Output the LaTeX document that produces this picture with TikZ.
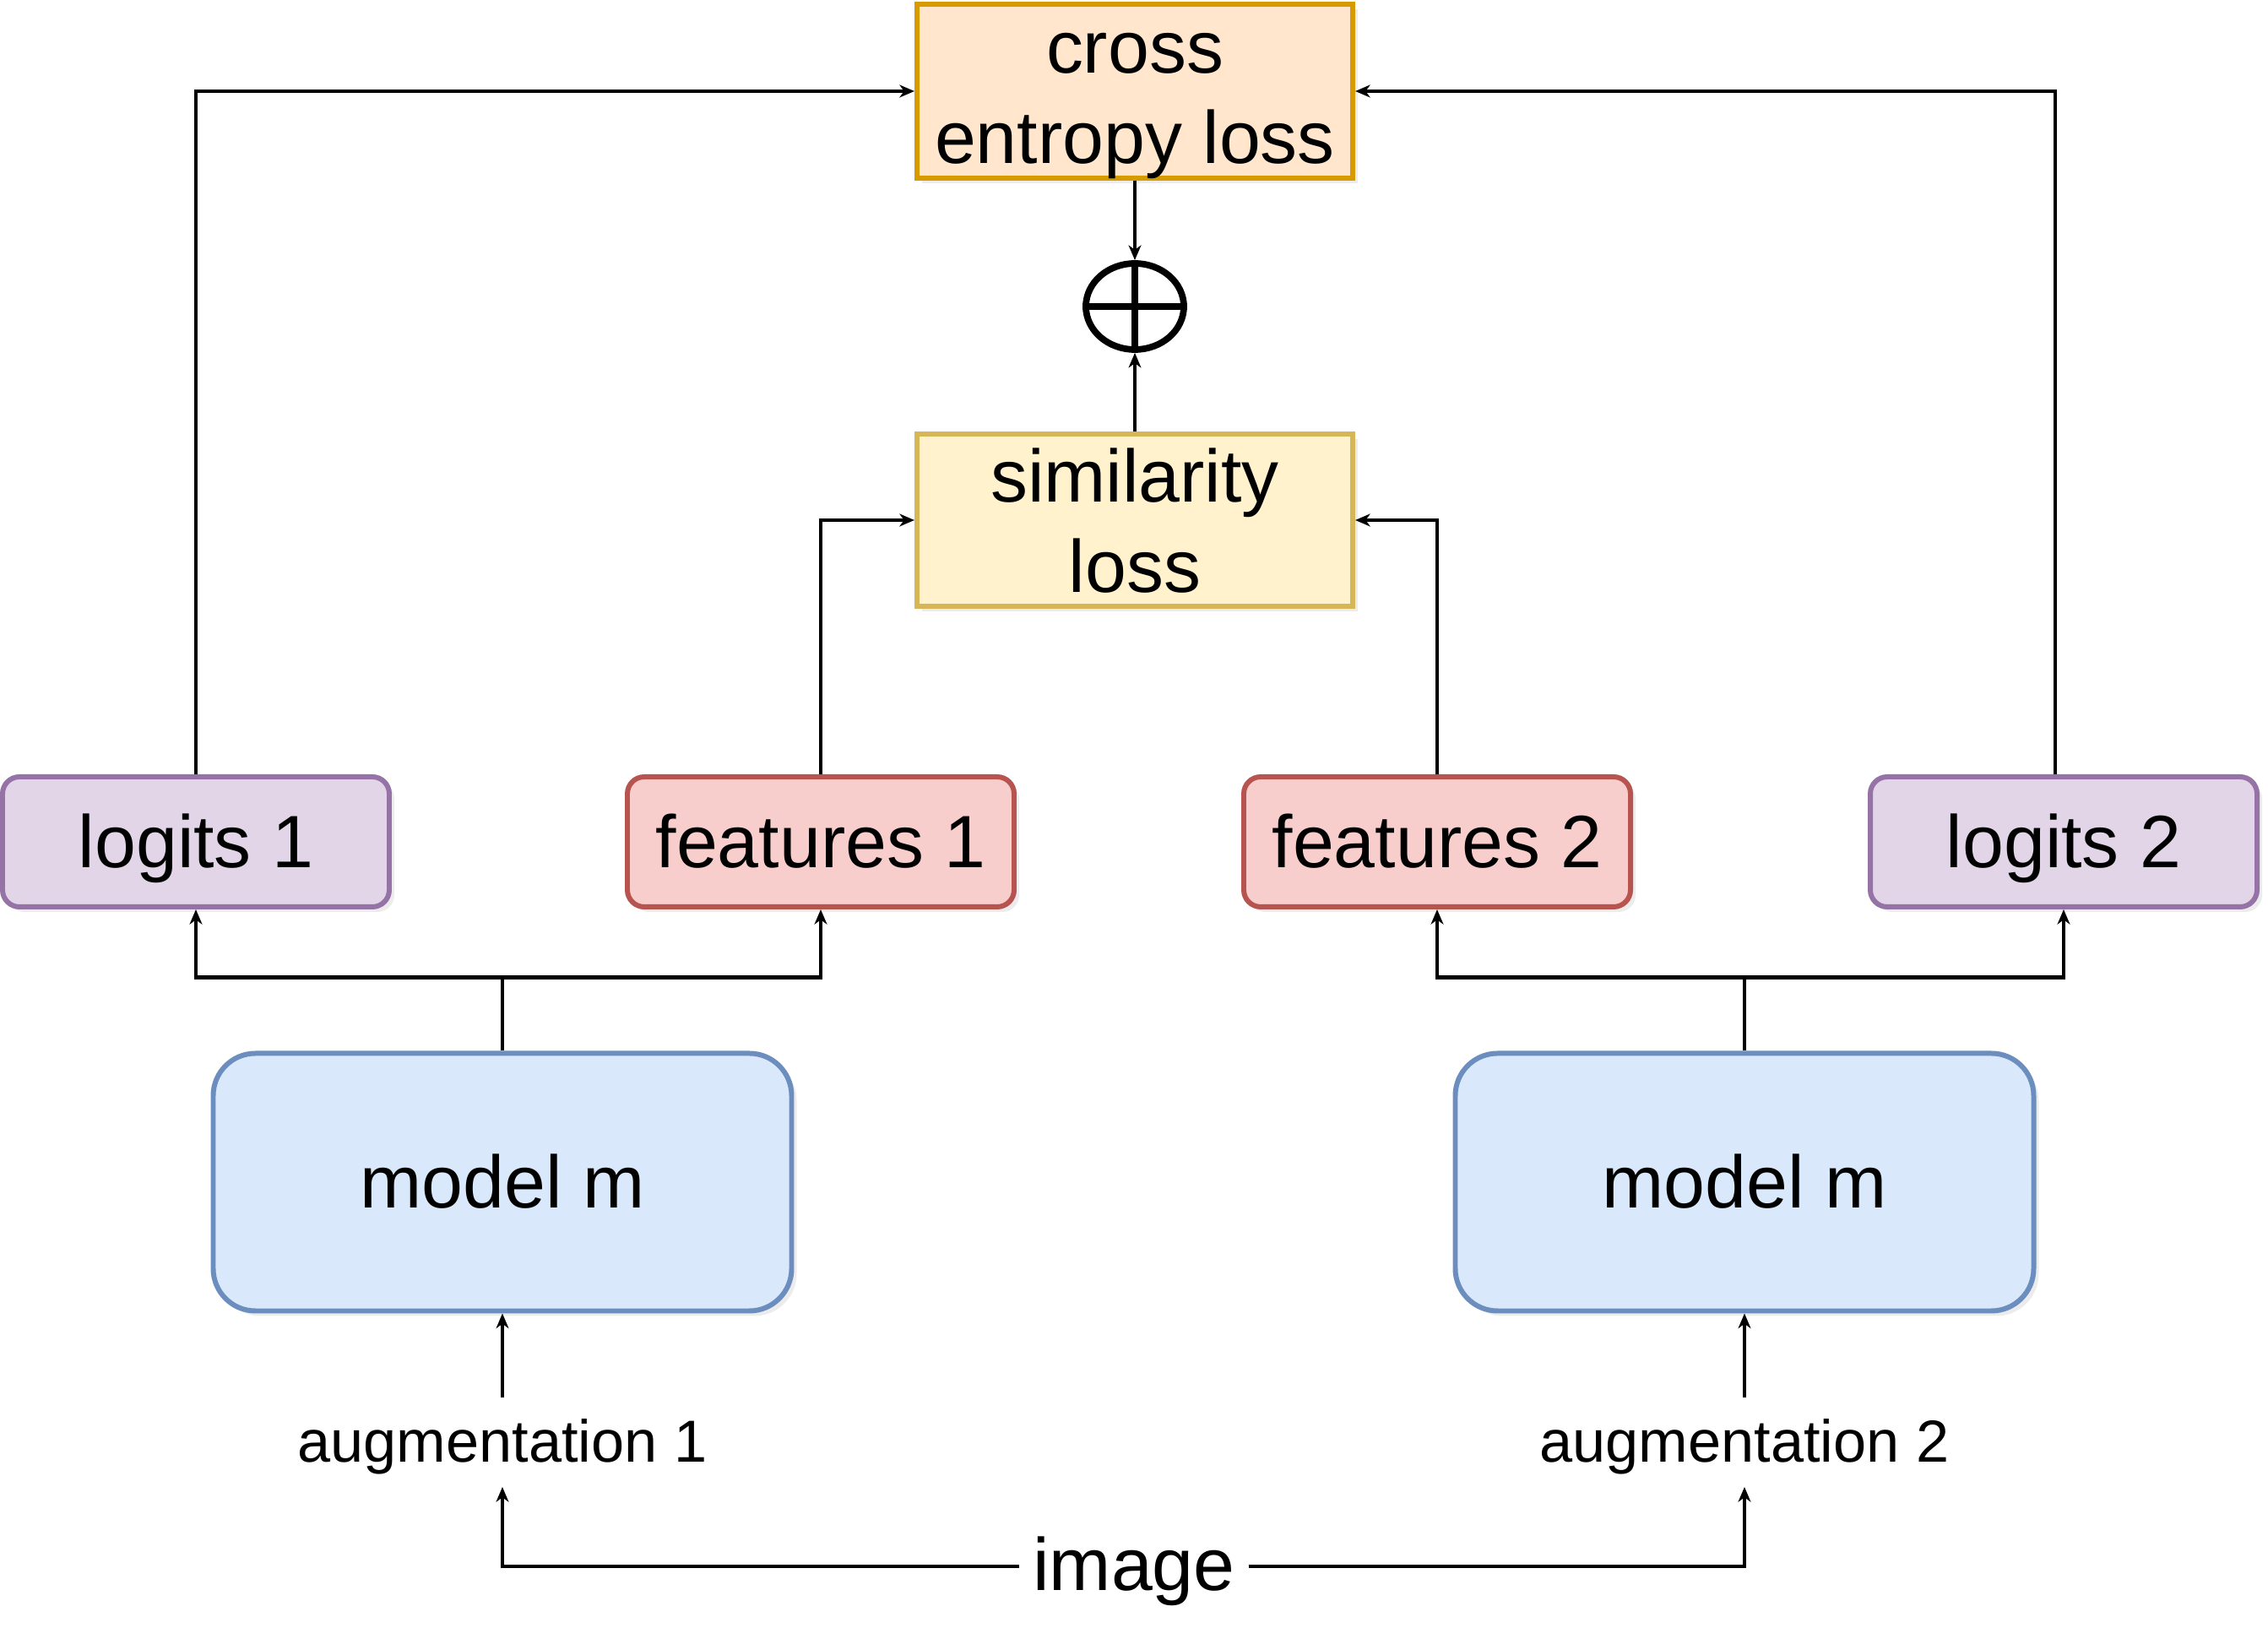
\documentclass[tikz,border=0pt]{standalone}
\usepackage{fontspec}
\setmainfont{Liberation Sans}
\usetikzlibrary{positioning,shapes.geometric,arrows.meta,shadows}

\definecolor{ceFill}{HTML}{FFE6CC}
\definecolor{ceLine}{HTML}{D79B00}
\definecolor{simFill}{HTML}{FFF2CC}
\definecolor{simLine}{HTML}{D6B656}
\definecolor{logitFill}{HTML}{E1D5E7}
\definecolor{logitLine}{HTML}{9673A6}
\definecolor{featFill}{HTML}{F8CECC}
\definecolor{featLine}{HTML}{B85450}
\definecolor{modelFill}{HTML}{DAE8FC}
\definecolor{modelLine}{HTML}{6C8EBF}

\begin{document}
\begin{tikzpicture}[->,>={Stealth[length=5pt,width=4.2pt,inset=1.5pt]},line width=1.15pt,on grid,
    every node/.style={font=\fontsize{25}{30.6}\selectfont},
    box/.style={draw,line width=1.7pt,align=center,inner sep=0pt,drop shadow={opacity=0.15,shadow xshift=0.06cm,shadow yshift=-0.06cm}},
    loss node/.style={box,minimum width=5.16cm,text height=1.72cm,text depth=0pt},
    ce node/.style={loss node,fill=ceFill,draw=ceLine,minimum height=2.06cm},
    sim node/.style={loss node,fill=simFill,draw=simLine,minimum height=2.04cm},
    out node/.style={box,rounded corners=0.2cm,minimum width=4.58cm,minimum height=1.54cm,text height=0.62cm,text depth=0pt},
    logit node/.style={out node,fill=logitFill,draw=logitLine},
    feat node/.style={out node,fill=featFill,draw=featLine},
    model node/.style={box,rounded corners=0.5cm,minimum width=6.85cm,minimum height=3.05cm,fill=modelFill,draw=modelLine,text height=0.62cm,text depth=0pt},
    aug node/.style={font=\fontsize{20}{24}\selectfont,inner ysep=0.27cm,text height=0.48cm,text depth=0pt},
    img node/.style={inner sep=0.14cm,text height=0.58cm,text depth=0pt},
    plus node/.style={ellipse,draw,line width=2.2pt,minimum width=1.16cm,minimum height=1.02cm,inner sep=0pt}]

    \useasboundingbox (0,0) rectangle (26.86,19.28);

    \node[ce node] (ce) at (13.44,18.20) {cross\\entropy loss};
    \node[plus node] (op) [below=2.55cm of ce] {};
    \node[sim node] (sim) [below=2.53cm of op] {similarity\\loss};
    \node[feat node] (f1) [below left=3.81cm and 3.72cm of sim] {features 1};
    \node[feat node] (f2) [below right=3.81cm and 3.58cm of sim] {features 2};
    \node[logit node] (l1) [left=7.40cm of f1] {logits 1};
    \node[logit node] (l2) [right=7.42cm of f2] {logits 2};
    \node[model node] (m1) [below left=4.03cm and 3.77cm of f1] {model m};
    \node[model node] (m2) [below right=4.03cm and 3.64cm of f2] {model m};
    \node[aug node] (a1) [below=3.08cm of m1] {augmentation 1};
    \node[aug node] (a2) [below=3.08cm of m2] {augmentation 2};
    \node[img node] (img) at (13.43,0.73) {image};

    \coordinate[above=0.87cm of m1.north] (j1);
    \coordinate[above=0.87cm of m2.north] (j2);

    % plus sign
    \draw[-,line width=2.2pt] (op.north) -- (op.south) (op.west) -- (op.east);

    \path
        (ce) edge (op)
        (sim) edge (op)
        (a1) edge (m1)
        (a2) edge (m2)
    ;

    \draw (m1.north) -- (j1) -| (l1.south);
    \draw (j1) -| (f1.south);
    \draw (m2.north) -- (j2) -| (l2.south);
    \draw (j2) -| (f2.south);

    \draw (l1.north) |- (ce.west);
    \draw ([xshift=-0.1cm]l2.north) |- (ce.east);
    \draw (f1.north) |- (sim.west);
    \draw (f2.north) |- (sim.east);

    \draw (img) -| (a1);
    \draw (img) -| (a2);
\end{tikzpicture}
\end{document}
